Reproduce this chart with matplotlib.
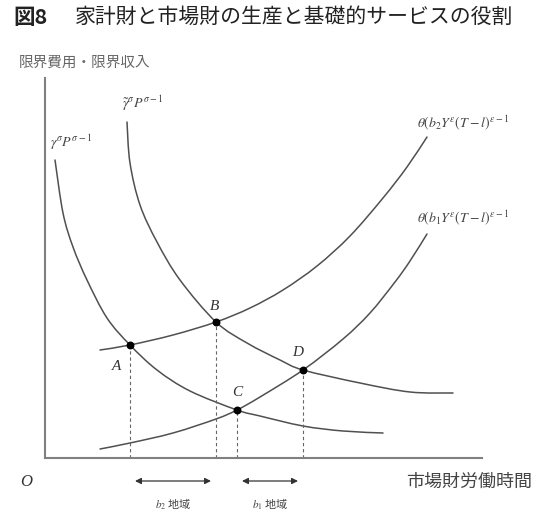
import matplotlib
matplotlib.use('Agg')
import matplotlib.pyplot as plt
from matplotlib.path import Path
from matplotlib.patches import PathPatch

plt.rcParams['font.family'] = ['Noto Sans CJK JP', 'DejaVu Sans']
plt.rcParams['mathtext.fontset'] = 'stix'

# curve samples (x = market labour time, y = marginal cost / revenue)
gamma_x = [10, 18, 28, 42, 62, 85, 112, 145, 192, 215, 258, 298, 338]
gamma_y = [298, 245, 211, 178, 140, 113, 88, 67, 48, 42, 32, 27, 25]

gamma_t_x = [82, 85, 95, 112, 135, 171, 202, 235, 258, 315, 365, 408]
gamma_t_y = [336, 295, 253, 216, 178, 136, 115, 98, 88, 75, 66, 65]

b2_x = [55, 85, 128, 171, 205, 238, 272, 305, 338, 362, 382]
b2_y = [108, 113, 123, 136, 150, 168, 192, 222, 260, 291, 321]

b1_x = [55, 85, 128, 171, 192, 215, 258, 298, 325, 350, 365, 382]
b1_y = [9, 15, 25, 39, 48, 61, 88, 119, 145, 176, 197, 224]

# equilibrium points
pt_names = ['A', 'B', 'C', 'D']
pt_x = [85, 171, 192, 258]
pt_y = [113, 136, 48, 88]


def smooth_path(xs, ys):
    # Catmull-Rom through every sample, written as cubic Bezier segments
    pts = list(zip(xs, ys))
    verts = [pts[0]]
    codes = [Path.MOVETO]
    for i in range(len(pts) - 1):
        p0 = pts[i - 1] if i > 0 else pts[i]
        p1, p2 = pts[i], pts[i + 1]
        p3 = pts[i + 2] if i + 2 < len(pts) else pts[i + 1]
        c1 = (p1[0] + (p2[0] - p0[0]) / 6, p1[1] + (p2[1] - p0[1]) / 6)
        c2 = (p2[0] - (p3[0] - p1[0]) / 6, p2[1] - (p3[1] - p1[1]) / 6)
        verts += [c1, c2, p2]
        codes += [Path.CURVE4] * 3
    return Path(verts, codes)


W, H = 543, 516
fig = plt.figure(figsize=(W / 100, H / 100), dpi=100)
ax = fig.add_axes([45 / W, (H - 458) / H, (482 - 45) / W, (458 - 78) / H])
ax.set_xlim(0, 437)
ax.set_ylim(0, 380)
for s in ['top', 'right']:
    ax.spines[s].set_visible(False)
for s in ['left', 'bottom']:
    ax.spines[s].set_color('#808080')
    ax.spines[s].set_linewidth(1.5)
ax.set_xticks([])
ax.set_yticks([])

line_c = '#505050'
for xs, ys in [(gamma_x, gamma_y), (gamma_t_x, gamma_t_y), (b2_x, b2_y), (b1_x, b1_y)]:
    ax.add_patch(PathPatch(smooth_path(xs, ys), facecolor='none',
                           edgecolor=line_c, lw=1.1, capstyle='round'))

# dashed drop lines and the points
for x, y in zip(pt_x, pt_y):
    ax.plot([x, x], [0, y], color='#666666', lw=0.8, ls=(0, (3, 2.5)))
ax.scatter(pt_x, pt_y, s=22, color='black', zorder=5)

lab_off = {'A': (-13, -22), 'B': (-1, 15), 'C': (0, 17), 'D': (-5, 17)}
for n, x, y in zip(pt_names, pt_x, pt_y):
    dx, dy = lab_off[n]
    ax.text(x + dx, y + dy, n, fontsize=11, family='Liberation Serif',
            style='italic', color='#333333', ha='center', va='center')

# curve labels
ax.text(5, 316, r'$\gamma^{\sigma}P^{\sigma-1}$', fontsize=10, color='#444444',
        ha='left', va='center')
ax.text(77, 355, r'$\tilde{\gamma}^{\sigma}P^{\sigma-1}$', fontsize=10, color='#444444',
        ha='left', va='center')
ax.text(372, 335, r'$\theta(b_2Y^{\varepsilon}(T-l)^{\varepsilon-1}$', fontsize=10,
        color='#444444', ha='left', va='center', clip_on=False)
ax.text(372, 240, r'$\theta(b_1Y^{\varepsilon}(T-l)^{\varepsilon-1}$', fontsize=10,
        color='#444444', ha='left', va='center', clip_on=False)

# regions under the axis
arrow_y = -23
gap = 5
for (x0, x1), lab in [((pt_x[0], pt_x[1]), r'$b_2$ 地域'), ((pt_x[2], pt_x[3]), r'$b_1$ 地域')]:
    ax.annotate('', xy=(x0 + gap, arrow_y), xytext=(x1 - gap, arrow_y),
                xycoords='data', annotation_clip=False,
                arrowprops=dict(arrowstyle='<|-|>', mutation_scale=9,
                                color='#333333', lw=0.9, shrinkA=0, shrinkB=0))
    ax.text((x0 + x1) / 2, -46, lab, fontsize=8, color='#444444',
            ha='center', va='center', clip_on=False)

ax.text(-19, -24, 'O', fontsize=12, family='Liberation Serif', style='italic',
        color='#333333', ha='center', va='center', clip_on=False)
ax.text(361, -24, '市場財労働時間', fontsize=13, color='#444444',
        ha='left', va='center', clip_on=False)

fig.text(150 / W, 1 - 63 / H, '限界費用・限界収入', fontsize=10.5, color='#666666',
         ha='right', va='center')

fig.text(13 / W, 1 - 17 / H, '図8', fontsize=15.5, fontweight='bold', color='#222222',
         ha='left', va='center')
fig.text(75 / W, 1 - 17 / H, '家計財と市場財の生産と基礎的サービスの役割', fontsize=15,
         color='#222222', ha='left', va='center')

fig.savefig('out.png', dpi=100, facecolor='white')
